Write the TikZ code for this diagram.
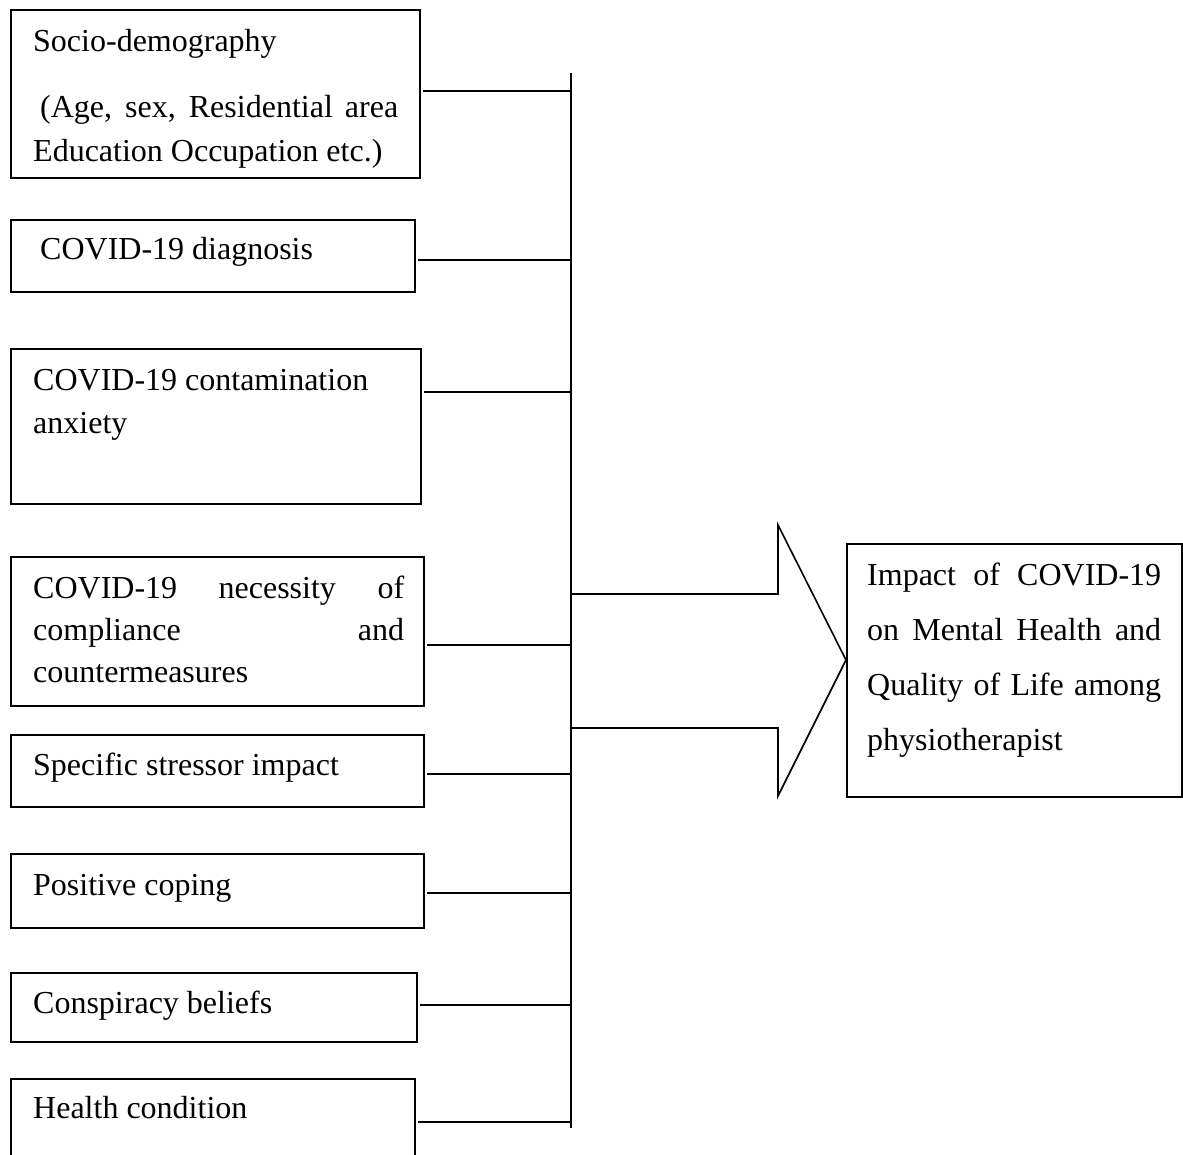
\documentclass[tikz,border=0pt]{standalone}
\usepackage{fontspec}
\setmainfont{Liberation Serif}
\begin{document}
\begin{tikzpicture}[x=1pt,y=-1pt,
  box/.style={draw, line width=1.8pt, inner sep=0pt, outer sep=0pt, anchor=north west},
  txt/.style={anchor=base west, inner sep=0pt, font=\fontsize{32}{38}\selectfont},
  link/.style={line width=2.6pt, shorten <=3pt},
  busline/.style={line width=2pt},
  bigarrow/.style={line width=1.6pt, line join=miter}]
\useasboundingbox (0,0) rectangle (1183,1155);

% input boxes
\node[box, minimum width=409pt, minimum height=168pt] (b1) at (11,10) {};
\node[box, minimum width=404pt, minimum height=72pt]  (b2) at (11,220) {};
\node[box, minimum width=410pt, minimum height=155pt] (b3) at (11,349) {};
\node[box, minimum width=413pt, minimum height=149pt] (b4) at (11,557) {};
\node[box, minimum width=413pt, minimum height=72pt]  (b5) at (11,735) {};
\node[box, minimum width=413pt, minimum height=74pt]  (b6) at (11,854) {};
\node[box, minimum width=406pt, minimum height=69pt]  (b7) at (11,973) {};
\node[box, minimum width=404pt, minimum height=100pt] (b8) at (11,1079) {};

% texts
\node[txt] (t1a) at (33,52)  {Socio-demography};
\node[txt] (t1b) at (40,118) {\makebox[358pt][s]{(Age, sex, Residential area}};
\node[txt] (t1c) at (33,162) {Education Occupation etc.)};
\node[txt] (t2)  at (40,260) {COVID-19 diagnosis};
\node[txt] (t3a) at (33,391) {COVID-19 contamination};
\node[txt] (t3b) at (33,433) {anxiety};
\node[txt] (t4a) at (33,598) {\makebox[371pt][s]{COVID-19 necessity of}};
\node[txt] (t4b) at (33,640) {\makebox[371pt][s]{compliance and}};
\node[txt] (t4c) at (33,682) {countermeasures};
\node[txt] (t5)  at (33,775) {Specific stressor impact};
\node[txt] (t6)  at (33,895) {Positive coping};
\node[txt] (t7)  at (33,1013) {Conspiracy beliefs};
\node[txt] (t8)  at (33,1118) {Health condition};

% bus
\coordinate (bustop) at (571,73);
\coordinate (busbot) at (571,1128);
\draw[busline] (bustop) -- (busbot);

% junctions on the bus
\coordinate (j1) at (571,91);
\coordinate (j2) at (571,260);
\coordinate (j3) at (571,392);
\coordinate (j4) at (571,645);
\coordinate (j5) at (571,774);
\coordinate (j6) at (571,893);
\coordinate (j7) at (571,1005);
\coordinate (j8) at (571,1122);

\draw[link] (b1.east |- j1) -- (j1);
\draw[link] (b2.east |- j2) -- (j2);
\draw[link] (b3.east |- j3) -- (j3);
\draw[link] (b4.east |- j4) -- (j4);
\draw[link] (b5.east |- j5) -- (j5);
\draw[link] (b6.east |- j6) -- (j6);
\draw[link] (b7.east |- j7) -- (j7);
\draw[link] (b8.east |- j8) -- (j8);

% big arrow
\coordinate (atop) at (571,594);
\coordinate (abot) at (571,728);
\coordinate (atip) at (846,660);
\draw[bigarrow] (atop) -- (778,594) -- (778,525) -- (atip) -- (778,796) -- (778,728) -- (abot);

% outcome box
\node[box, minimum width=335pt, minimum height=253pt] (out) at (847,544) {};
\node[txt] (o1) at (867,585) {\makebox[294pt][s]{Impact of COVID-19}};
\node[txt] (o2) at (867,640) {\makebox[294pt][s]{on Mental Health and}};
\node[txt] (o3) at (867,695) {\makebox[294pt][s]{Quality of Life among}};
\node[txt] (o4) at (867,750) {physiotherapist};
\end{tikzpicture}
\end{document}
